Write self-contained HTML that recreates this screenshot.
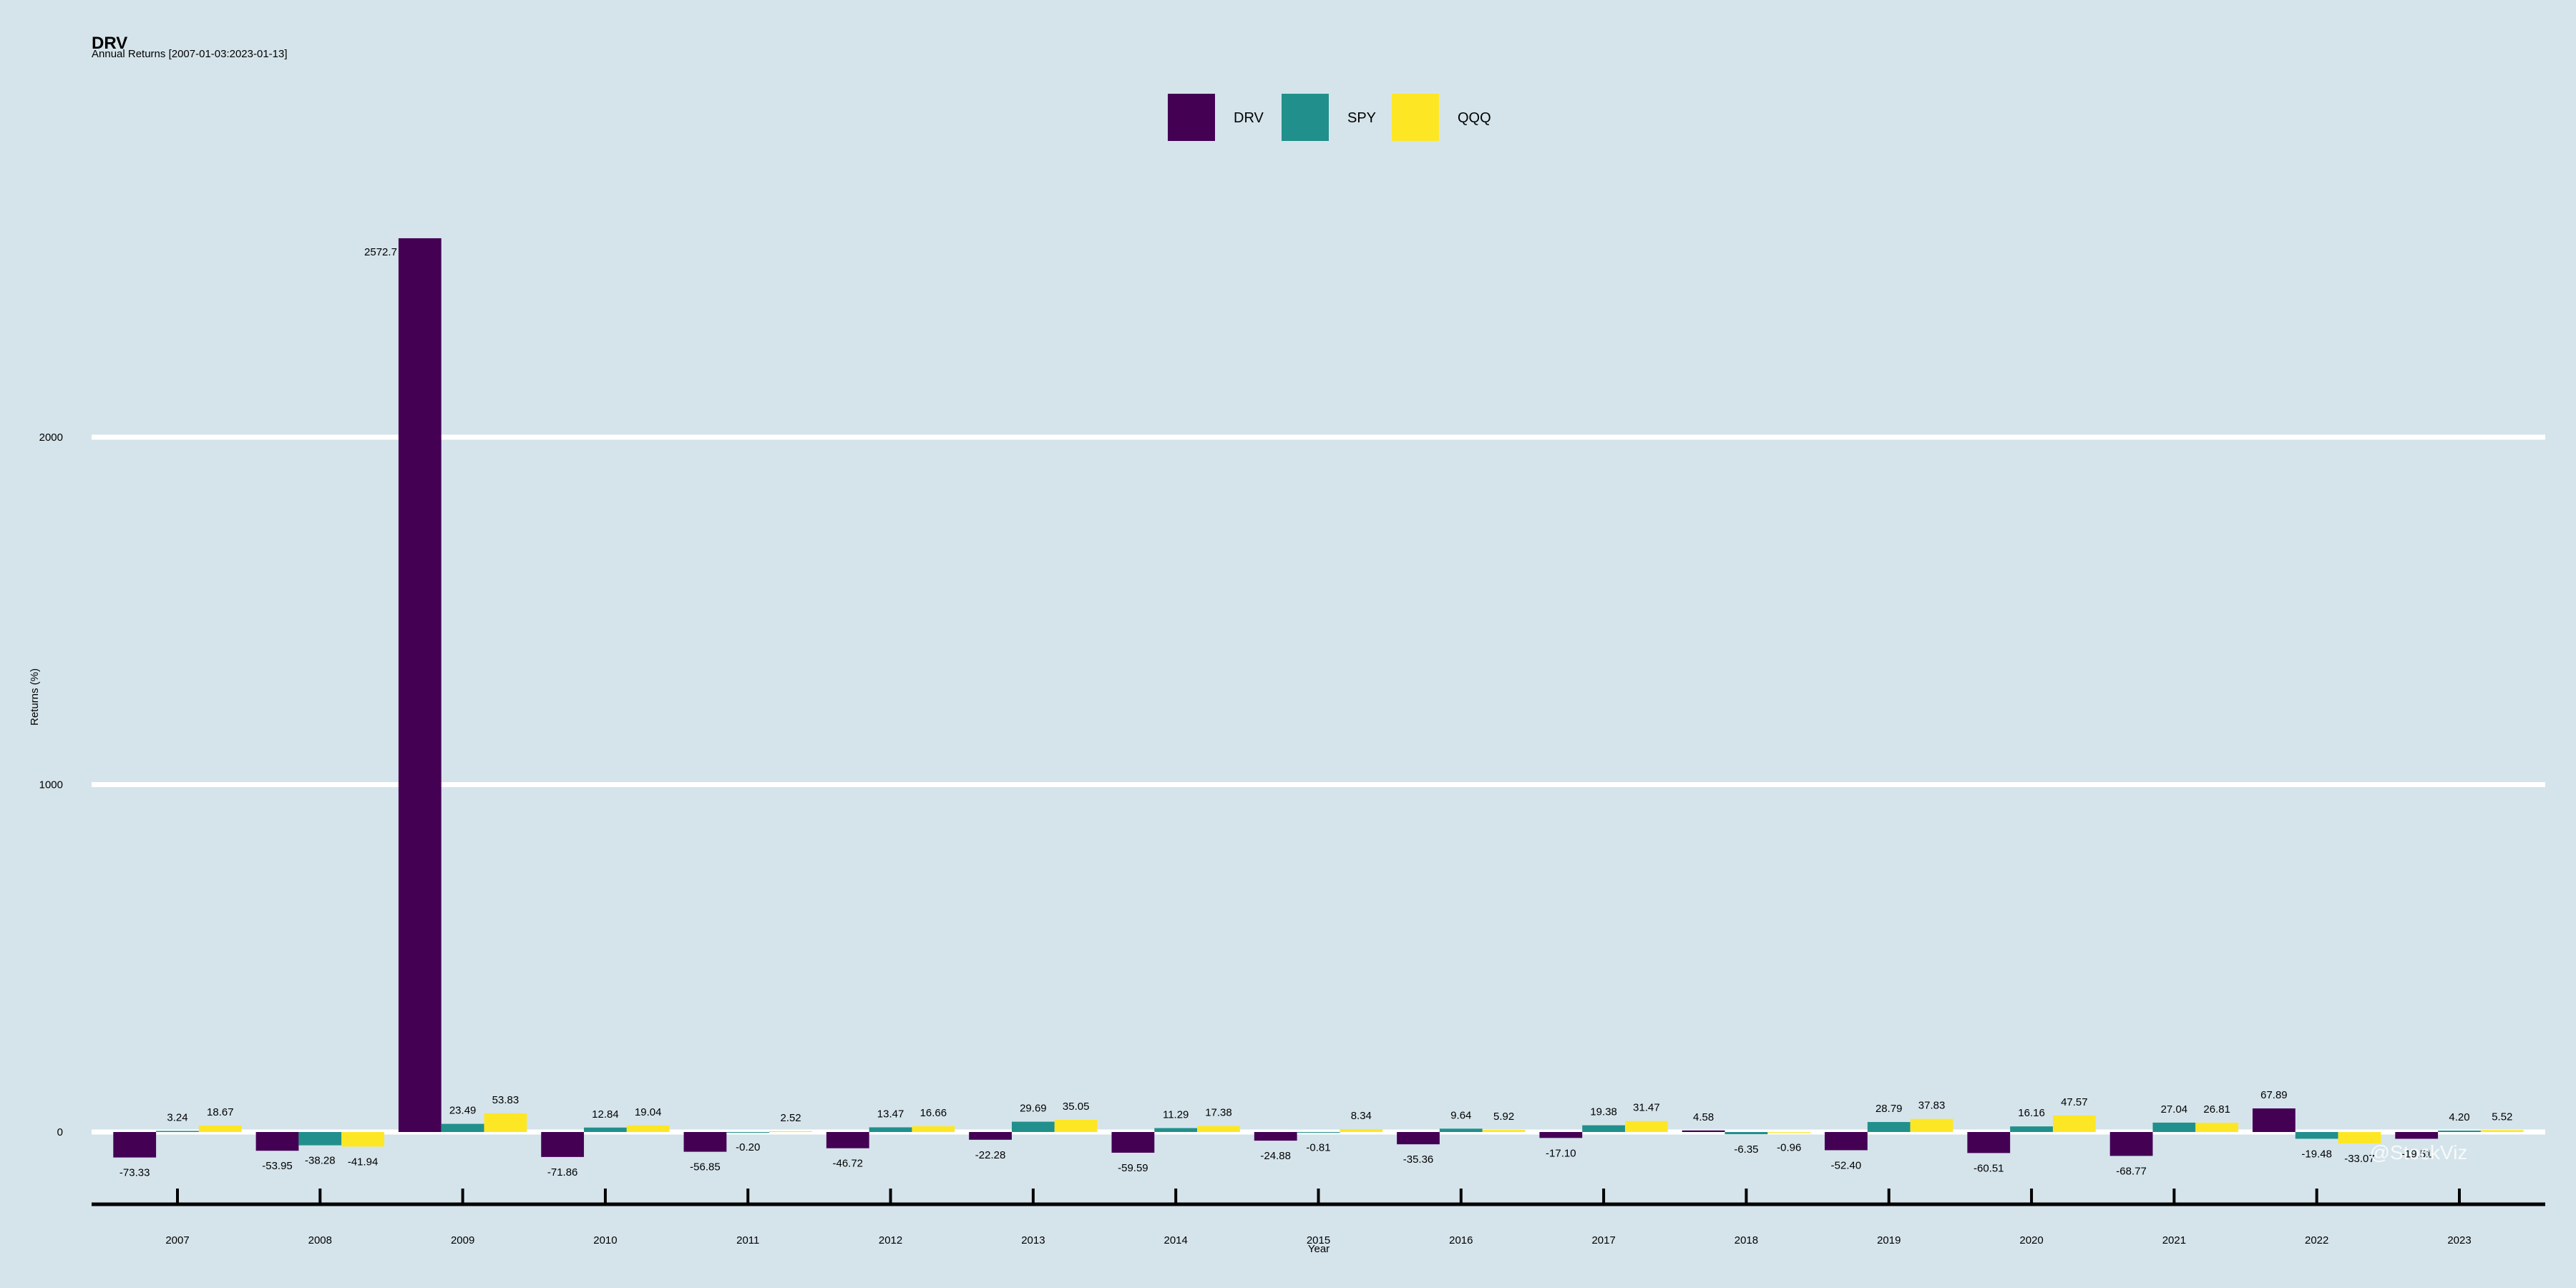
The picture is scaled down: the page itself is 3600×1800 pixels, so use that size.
<!DOCTYPE html>
<html><head><meta charset="utf-8"><style>
html,body{margin:0;padding:0;background:#d5e4eb;}
svg{display:block;font-family:"Liberation Sans",sans-serif;}
</style></head><body>
<svg id="chart" width="3600" height="1800" viewBox="0 0 3600 1800">
<rect x="0" y="0" width="3600" height="1800" fill="#d5e4eb"/>
<text x="128" y="68" font-size="24" font-weight="bold" fill="#000">DRV</text>
<text x="128" y="80" font-size="15" fill="#000">Annual Returns [2007-01-03:2023-01-13]</text>
<g id="legend"></g>
<g id="grid"></g>
<g id="bars"></g>
<g id="labels"></g>
<g id="xaxis"></g>
<text x="0" y="0" transform="translate(53,974) rotate(-90)" text-anchor="middle" font-size="15">Returns (%)</text>
<text x="1843" y="1750" text-anchor="middle" font-size="15">Year</text>
<text x="3380" y="1620" text-anchor="middle" font-size="28" fill="#ffffff" fill-opacity="0.8">@StockViz</text>
</svg>
<script>
const years = ["2007","2008","2009","2010","2011","2012","2013","2014","2015","2016","2017","2018","2019","2020","2021","2022","2023"];
const drv = [-73.33,-53.95,2572.7,-71.86,-56.85,-46.72,-22.28,-59.59,-24.88,-35.36,-17.10,4.58,-52.40,-60.51,-68.77,67.89,-19.51];
const spy = [3.24,-38.28,23.49,12.84,-0.20,13.47,29.69,11.29,-0.81,9.64,19.38,-6.35,28.79,16.16,27.04,-19.48,4.20];
const qqq = [18.67,-41.94,53.83,19.04,2.52,16.66,35.05,17.38,8.34,5.92,31.47,-0.96,37.83,47.57,26.81,-33.07,5.52];
const yTicks = [0,1000,2000];
const seriesNames = ["DRV","SPY","QQQ"];

const NS="http://www.w3.org/2000/svg";
const colors=["#440154","#21908c","#fde725"];
const left=128,right=3557,zeroY=1582,pxPerUnit=0.4855;
const firstC=248,lastC=3437;
const step=(lastC-firstC)/(years.length-1);
function xCenter(i){return firstC+step*i;}
function yScale(v){return zeroY-v*pxPerUnit;}
function mk(tag,attrs,parent){const e=document.createElementNS(NS,tag);for(const k in attrs)e.setAttribute(k,attrs[k]);parent.appendChild(e);return e;}

const grid=document.getElementById('grid');
yTicks.forEach(t=>{
  const l=mk('line',{x1:left,x2:right,y1:yScale(t),y2:yScale(t),stroke:'#ffffff','stroke-width':7},grid);
  
  
  const tx=mk('text',{x:88,y:yScale(t)+5,'text-anchor':'end','font-size':15},grid);
  tx.textContent=t;
  
  
});

const bars=document.getElementById('bars'),labels=document.getElementById('labels');
const bw=step*0.3;
[drv,spy,qqq].forEach((series,s)=>{
  series.forEach((v,i)=>{
    const x=xCenter(i)+(s-1)*bw-bw/2;
    const y0=yScale(Math.max(v,0)),y1=yScale(Math.min(v,0));
    const r=mk('rect',{x:x,y:y0,width:bw,height:Math.max(y1-y0,1),fill:colors[s]},bars);
    
    
    let ty=v>=0?yScale(v)-14:yScale(v)+26;
    let tx=x+bw/2;
    if(v>1000){ty=yScale(v)+24;tx=x-2;}
    const t=mk('text',{x:tx,y:ty,'text-anchor':v>1000?'end':'middle','font-size':15},labels);
    t.textContent=(v>1000)?v.toFixed(1):v.toFixed(2);
    
    
  });
});

const xa=document.getElementById('xaxis');
const axl=mk('line',{x1:left,x2:right,y1:1683,y2:1683,stroke:'#000','stroke-width':5},xa);


years.forEach((yr,i)=>{
  const tk=mk('line',{x1:xCenter(i),x2:xCenter(i),y1:1661,y2:1683,stroke:'#000','stroke-width':4},xa);
  
  
  const t=mk('text',{x:xCenter(i),y:1738,'text-anchor':'middle','font-size':15},xa);
  t.textContent=yr;
  
  
});

const lg=document.getElementById('legend');
const lgX=[1632,1791,1945];
seriesNames.forEach((n,s)=>{
  const r=mk('rect',{x:lgX[s],y:131,width:66,height:66,fill:colors[s]},lg);
  
  
  const t=mk('text',{x:lgX[s]+92,y:171,'font-size':20},lg);
  t.textContent=n;
  
  
});
</script>
</body></html>
